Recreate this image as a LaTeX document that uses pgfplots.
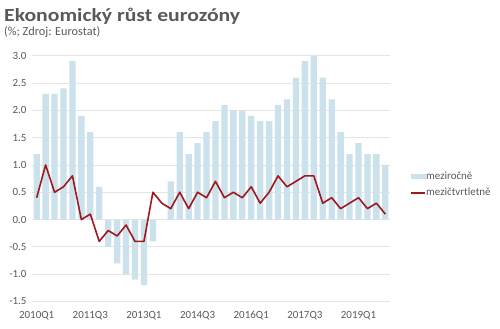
\documentclass[border=0pt]{standalone}
\usepackage{pgfplots}
\usepackage{pgfplotstable}
\pgfplotsset{compat=1.18}
\usepackage{fontspec}
\setmainfont{Carlito}
\newfontfamily\titlefont[FakeStretch=1.17]{Carlito}
\definecolor{barblue}{RGB}{203,226,236}
\definecolor{linered}{RGB}{158,24,30}
\definecolor{txtgray}{RGB}{89,89,89}
\definecolor{gridgray}{RGB}{229,229,229}
\pgfplotstableread{
i yoy qoq
0 1.2 0.4
1 2.3 1.0
2 2.3 0.5
3 2.4 0.6
4 2.9 0.8
5 1.9 0.0
6 1.6 0.1
7 0.6 -0.4
8 -0.5 -0.2
9 -0.8 -0.3
10 -1.0 -0.1
11 -1.1 -0.4
12 -1.2 -0.4
13 -0.4 0.5
14 0.0 0.3
15 0.7 0.2
16 1.6 0.5
17 1.2 0.2
18 1.4 0.5
19 1.6 0.4
20 1.8 0.7
21 2.1 0.4
22 2.0 0.5
23 2.0 0.4
24 1.9 0.6
25 1.8 0.3
26 1.8 0.5
27 2.1 0.8
28 2.2 0.6
29 2.6 0.7
30 2.9 0.8
31 3.0 0.8
32 2.6 0.3
33 2.2 0.4
34 1.6 0.2
35 1.2 0.3
36 1.4 0.4
37 1.2 0.2
38 1.2 0.3
39 1.0 0.1
}\data
\begin{document}
\begin{tikzpicture}
\useasboundingbox (0,0) rectangle (500bp,329bp);
\node[anchor=base west, inner sep=0pt, font=\titlefont\fontsize{18.6}{20}\selectfont\bfseries, text=txtgray] at (4bp,307.5bp) {Ekonomický růst eurozóny};
\node[anchor=base west, inner sep=0pt, font=\fontsize{12.3}{14}\selectfont, text=txtgray] at (4bp,293.5bp) {(\%; Zdroj: Eurostat)};
\begin{axis}[
  at={(32.2bp,27.5bp)}, anchor=south west,
  scale only axis, width=357.6bp, height=245.8bp,
  xmin=-0.5, xmax=39.5, ymin=-1.5, ymax=3.0,
  axis line style={draw=none},
  ymajorgrids, grid style={gridgray, line width=0.8bp},
  major tick length=0pt,
  xtick={0,6,12,18,24,30,36},
  xticklabels={2010Q1,2011Q3,2013Q1,2014Q3,2016Q1,2017Q3,2019Q1},
  ytick={-1.5,-1,-0.5,0,0.5,1,1.5,2,2.5,3},
  yticklabels={-1.5,-1.0,-0.5,0.0,0.5,1.0,1.5,2.0,2.5,3.0},
  ticklabel style={font=\fontsize{11}{13}\selectfont, text=txtgray},
  yticklabel style={anchor=east, inner sep=0pt, xshift=-5.5bp},
  xticklabel style={anchor=base, inner sep=0pt, yshift=-17bp},
  legend style={at={(1.057,0.527)}, anchor=north west, draw=none, fill=none,
    font=\fontsize{11}{13}\selectfont, text=txtgray, row sep=7bp, inner sep=0pt,
    nodes={inner sep=0pt}, cells={anchor=west}},
  legend cell align=left,
]
\addplot[ybar, bar width=6.3bp, bar shift=0pt, fill=barblue, draw=none,
  legend image code/.code={\fill[barblue] (0bp,-2.5bp) rectangle (15bp,2.5bp);}]
  table[x=i, y=yoy] {\data};
\addlegendentry{meziročně}
\addplot[sharp plot, color=linered, line width=1.6bp, line join=round, mark=none,
  legend image code/.code={\draw[linered, line width=1.6bp] (0bp,0bp) -- (14bp,0bp);}]
  table[x=i, y=qoq] {\data};
\addlegendentry{mezičtvrtletně}
\end{axis}
\end{tikzpicture}
\end{document}
